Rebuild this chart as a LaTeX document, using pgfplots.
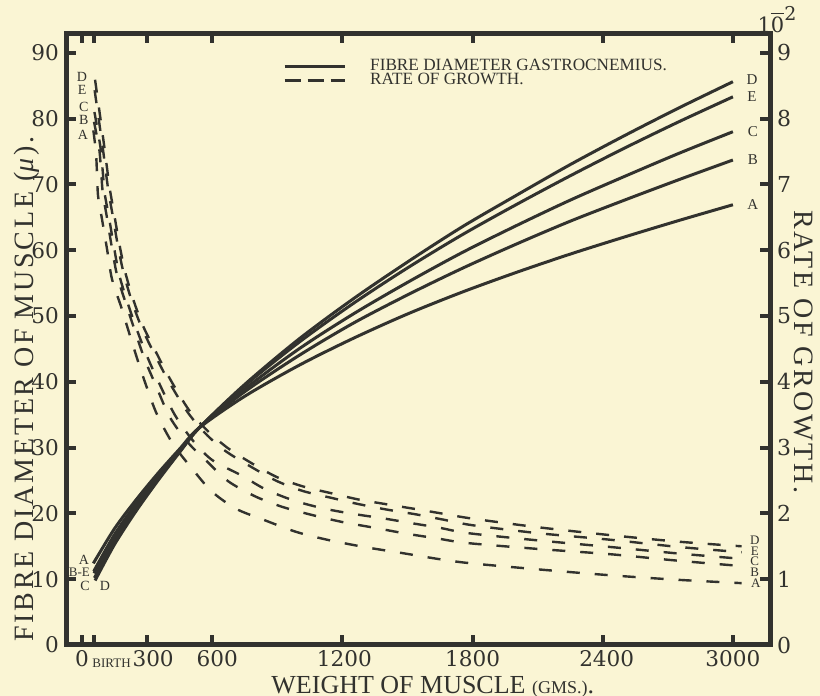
\documentclass[border=0pt]{standalone}
\usepackage{pgfplots}
\pgfplotsset{compat=1.18}
\usepackage{fontspec}
\setmainfont{Liberation Serif}
\newfontfamily\numfont{DejaVu Serif}
\definecolor{paper}{RGB}{250,245,212}
\definecolor{ink}{RGB}{50,50,46}
\begin{document}
\begin{tikzpicture}[x=1pt,y=1pt]
\fill[paper] (-33,-25.5) rectangle (377,322.5);
\useasboundingbox (-33,-25.5) rectangle (377,322.5);
\begin{axis}[
  at={(0,0)}, anchor=south west, width=352pt, height=306pt, scale only axis,
  xmin=-74, xmax=3171, ymin=0, ymax=93, clip=false,
  axis line style={line width=2.5pt, color=ink},
  tick align=inside, major tick length=5pt,
  every tick/.style={line width=2pt, color=ink},
  xtick={0,55,300,600,1200,1800,2400,3000},
  xticklabels={0,,\hspace*{6pt}300,\hspace*{5pt}600,\hspace*{2pt}1200,1800,\hspace*{4pt}2400,3000},
  ytick={0,10,20,30,40,50,60,70,80,90},
  yticklabels={0,10,20,30,40,50,60,70,80,90},
  ytick pos=left,
  ticklabel style={font=\numfont\fontsize{10.8}{12}\selectfont, text=ink},
  xticklabel style={yshift=1pt},
  xlabel={WEIGHT OF MUSCLE {\fontsize{9}{10}\selectfont(GMS.)}.},
  xlabel style={at={(axis description cs:0.521,-0.068)}, anchor=center, font=\fontsize{13}{14}\selectfont, text=ink, inner sep=0pt},
  ylabel={FIBRE DIAMETER OF MUSCLE (\textit{μ}).},
  ylabel style={at={(axis description cs:-0.056,0.418)}, anchor=center, font=\fontsize{14}{16}\selectfont\addfontfeature{LetterSpace=10}, text=ink},
  legend style={at={(axis description cs:0.308,0.965)}, anchor=north west, draw=none, fill=none,
     font=\fontsize{8.6}{8.6}\selectfont, text=ink, row sep=-4pt, inner sep=0pt,
     /tikz/every odd column/.style={column sep=10pt}},
  legend cell align=left,
  legend image code/.code={\draw[#1] (0pt,0pt) -- (30pt,0pt);},
  solid/.style={ink, line width=1.5pt, smooth},
  dsh/.style={ink, line width=1.2pt, smooth, dash pattern=on 6.5pt off 7.5pt},
]
\addlegendimage{ink, line width=1.5pt}
\addlegendentry{FIBRE DIAMETER GASTROCNEMIUS.}
\addlegendimage{ink, line width=1.3pt, dash pattern=on 8pt off 3.5pt}
\addlegendentry{RATE OF GROWTH.}
% fibre diameter (solid)
\addplot[solid, forget plot] coordinates {(60,9.8) (150,15.3) (250,20.4) (350,25.0) (450,29.3) (540,33.0) (750,39.6) (1000,46.5) (1250,52.6) (1500,58.2) (1750,63.5) (2000,68.3) (2250,73.0) (2500,77.4) (2750,81.6) (3000,85.6)};
\addplot[solid, forget plot] coordinates {(55,10.9) (150,16.4) (250,21.2) (350,25.5) (450,29.5) (540,33.0) (750,39.4) (1000,46.0) (1250,51.9) (1500,57.3) (1750,62.3) (2000,66.9) (2250,71.3) (2500,75.5) (2750,79.5) (3000,83.3)};
\addplot[solid, forget plot] coordinates {(57,10.2) (150,15.7) (250,20.7) (350,25.2) (450,29.4) (540,33.0) (750,38.9) (1000,45.0) (1250,50.3) (1500,55.1) (1750,59.6) (2000,63.7) (2250,67.6) (2500,71.2) (2750,74.7) (3000,78.0)};
\addplot[solid, forget plot] coordinates {(54,11.2) (150,16.8) (250,21.5) (350,25.7) (450,29.6) (540,33.0) (750,38.5) (1000,44.0) (1250,48.9) (1500,53.2) (1750,57.2) (2000,60.9) (2250,64.4) (2500,67.6) (2750,70.7) (3000,73.7)};
\addplot[solid, forget plot] coordinates {(52,12.4) (150,17.7) (250,22.1) (350,26.1) (450,29.8) (540,33.0) (750,37.8) (1000,42.5) (1250,46.6) (1500,50.3) (1750,53.6) (2000,56.6) (2250,59.4) (2500,62.0) (2750,64.5) (3000,66.9)};
% rate of growth (dashed), right axis value x10
\addplot[dsh, forget plot] coordinates {(60,85.9) (101,76.1) (115,72.5) (129,69.1) (147,65.7) (171,61.1) (198,56.8) (235,52.6) (281,48.5) (341,44.5) (406,40.4) (493,35.7) (580,32.5) (673,29.9) (783,27.6) (899,25.5) (1018,24.1) (1157,23.0) (1276,22.1) (1401,21.4) (1548,20.6) (1673,19.9) (1800,19.2) (2100,17.9) (2433,16.7) (2750,15.7) (3040,15.0)};
\addplot[dsh, forget plot] coordinates {(58,84.3) (94,75.9) (108,72.3) (122,68.9) (140,65.5) (164,60.9) (191,56.6) (228,52.4) (274,48.3) (334,44.2) (399,40.1) (486,35.4) (570,32.1) (660,29.5) (783,27.0) (899,24.9) (1018,23.4) (1157,22.3) (1276,21.4) (1401,20.6) (1548,19.8) (1673,19.0) (1800,18.2) (2100,17.0) (2433,16.0) (2750,14.9) (3040,14.1)};
\addplot[dsh, forget plot] coordinates {(57,81.0) (85,75.6) (95,72.1) (104,68.7) (123,65.2) (146,60.7) (171,56.3) (210,52.0) (254,47.8) (302,43.7) (358,39.6) (427,35.0) (510,31.1) (600,28.1) (733,25.8) (843,23.7) (972,22.0) (1106,20.8) (1235,20.0) (1396,19.2) (1521,18.5) (1650,17.8) (1779,17.0) (2100,15.9) (2433,14.9) (2750,13.9) (3040,13.1)};
\addplot[dsh, forget plot] coordinates {(55,79.5) (79,75.4) (88,71.9) (96,68.6) (114,65.1) (137,60.5) (162,56.1) (202,51.9) (245,47.6) (289,43.4) (342,39.3) (405,34.6) (490,30.7) (576,27.9) (673,24.9) (797,22.6) (922,21.0) (1055,19.8) (1198,18.7) (1350,17.8) (1498,16.9) (1636,16.2) (1774,15.5) (2100,14.6) (2433,13.8) (2750,12.8) (3040,12.0)};
\addplot[dsh, forget plot] coordinates {(52,78.2) (64,74.9) (69,71.6) (74,68.2) (92,64.7) (115,60.2) (138,55.6) (180,51.4) (221,47.0) (260,42.9) (300,39.0) (346,35.0) (420,30.5) (512,26.6) (599,23.3) (710,20.7) (839,19.0) (986,17.2) (1129,16.0) (1300,14.9) (1470,14.0) (1742,12.6) (2100,11.5) (2433,10.6) (2750,9.9) (3040,9.4)};
% curve labels
\begin{scope}[every node/.style={font=\fontsize{7}{7}\selectfont, text=ink, inner sep=0pt}]
\node at (axis cs:0,86.4) {D};
\node at (axis cs:0,84.3) {E};
\node at (axis cs:8,81.7) {C};
\node at (axis cs:8,79.8) {B};
\node at (axis cs:4,77.5) {A};
\node at (axis cs:9,13.0) {A};
\node[font=\fontsize{6.5}{6.5}\selectfont] at (axis cs:-12,11.0) {B-E};
\node at (axis cs:14,9.0) {C};
\node at (axis cs:106,9.0) {D};
\node[font=\fontsize{7.5}{7.5}\selectfont] at (axis cs:3088,85.9) {D};
\node[font=\fontsize{7.5}{7.5}\selectfont] at (axis cs:3088,83.3) {E};
\node[font=\fontsize{7.5}{7.5}\selectfont] at (axis cs:3092,78.0) {C};
\node[font=\fontsize{7.5}{7.5}\selectfont] at (axis cs:3092,73.7) {B};
\node[font=\fontsize{7.5}{7.5}\selectfont] at (axis cs:3092,67.0) {A};
\node[font=\fontsize{6.5}{6.5}\selectfont] at (axis cs:3101,15.9) {D};
\node[font=\fontsize{6.5}{6.5}\selectfont] at (axis cs:3101,14.3) {E};
\node[font=\fontsize{6.5}{6.5}\selectfont] at (axis cs:3101,12.7) {C};
\node[font=\fontsize{6.5}{6.5}\selectfont] at (axis cs:3101,11.1) {B};
\node[font=\fontsize{6.5}{6.5}\selectfont] at (axis cs:3106,9.4) {A};
\node[anchor=base west, font=\fontsize{6.5}{6.5}\selectfont] at (axis cs:46,0) [yshift=-11.3pt] {BIRTH};
\end{scope}
\end{axis}
\begin{axis}[
  at={(0,0)}, anchor=south west, width=352pt, height=306pt, scale only axis,
  xmin=-74, xmax=3171, ymin=0, ymax=9.3, clip=false,
  axis x line=none, axis y line*=right,
  axis line style={line width=2.5pt, color=ink, -},
  tick align=inside, major tick length=5pt,
  every tick/.style={line width=2pt, color=ink},
  ytick={0,1,2,3,4,5,6,7,8,9},
  yticklabels={0,1,2,3,4,5,6,7,8,9},
  ticklabel style={font=\numfont\fontsize{11}{12}\selectfont, text=ink},
  ylabel={RATE OF GROWTH.},
  ylabel style={at={(axis description cs:1.047,0.479)}, anchor=center, rotate=180, font=\fontsize{14}{16}\selectfont\addfontfeature{LetterSpace=10}, text=ink},
]
\node[anchor=base, font=\numfont\fontsize{10.5}{12}\selectfont, text=ink, inner sep=0pt] at (rel axis cs:1,1) [xshift=3.5pt, yshift=0.5pt] {1$\overline{\mbox{0}}$\raisebox{0.55em}{\fontsize{9.5}{10}\selectfont 2}};
\end{axis}
\end{tikzpicture}
\end{document}
